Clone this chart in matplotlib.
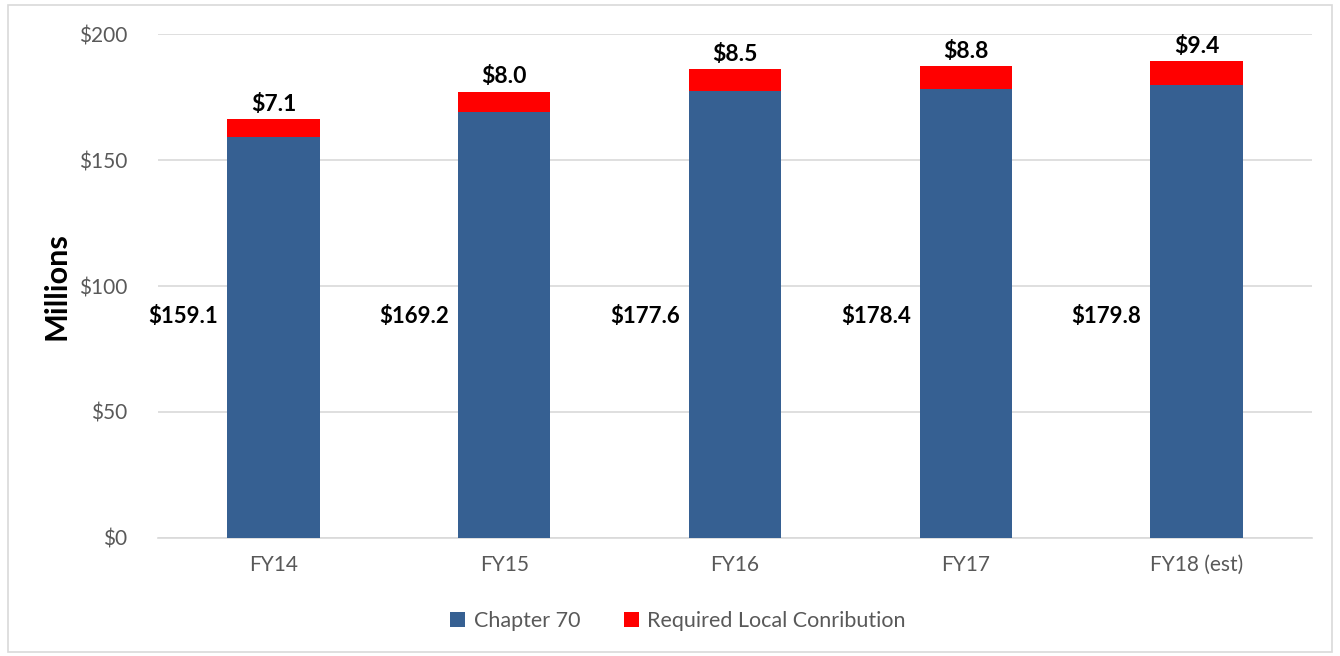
import matplotlib.pyplot as plt
from matplotlib.patches import Rectangle

# Data (millions of dollars)
years = ['FY14', 'FY15', 'FY16', 'FY17', 'FY18 (est)']
chapter70 = [159.1, 169.2, 177.6, 178.4, 179.8]
local_contrib = [7.1, 8.0, 8.5, 8.8, 9.4]

blue = '#366092'
red = '#ff0000'
grey_text = '#595959'

plt.rcParams['font.family'] = ['Lato', 'DejaVu Sans']

fig = plt.figure(figsize=(13.4, 6.56), dpi=100)
ax = fig.add_axes([0.118, 0.180, 0.861, 0.768])

x = range(len(years))
ax.bar(x, chapter70, width=0.4, color=blue, label='Chapter 70', zorder=3)
ax.bar(x, local_contrib, width=0.4, bottom=chapter70, color=red,
       label='Required Local Conribution', zorder=3)

# labels: blue values to the left of bars, red values above the bars
for i, (c, r) in enumerate(zip(chapter70, local_contrib)):
    ax.text(i - 0.39, 88, f'${c:.1f}', ha='center', va='center',
            fontsize=16, fontweight='bold', color='black')
    ax.annotate(f'${r:.1f}', (i, c + r), xytext=(0, 3), textcoords='offset points',
                ha='center', va='bottom', fontsize=16.5, fontweight='bold', color='black')

ax.set_xlim(-0.5, len(years) - 0.5)
ax.set_ylim(0, 200)
ax.set_yticks([0, 50, 100, 150, 200])
ax.set_yticklabels([f'${v}' for v in [0, 50, 100, 150, 200]])
ax.set_xticks(list(x))
ax.set_xticklabels(years)
ax.tick_params(axis='both', length=0, labelsize=15, labelcolor=grey_text)
ax.tick_params(axis='y', pad=22)
ax.tick_params(axis='x', pad=12)
ax.grid(axis='y', color='#d9d9d9', linewidth=1.2, zorder=0)
for s in ['top', 'right', 'left']:
    ax.spines[s].set_visible(False)
ax.spines['bottom'].set_color('#d9d9d9')
ax.spines['bottom'].set_linewidth(1.2)

ax.set_ylabel('Millions', fontsize=22, fontweight='bold', color='black', labelpad=6)

fig.legend(loc='center', bbox_to_anchor=(0.506, 0.053), ncol=2, frameon=False,
           fontsize=15.5, handlelength=0.7, handleheight=0.7, columnspacing=2.0,
           handletextpad=0.4, labelcolor=grey_text)

# outer chart border
fig.patches.append(Rectangle((0.006, 0.006), 0.988, 0.986, transform=fig.transFigure,
                             fill=False, edgecolor='#d9d9d9', linewidth=1.2))

fig.savefig('out.png', dpi=100)
